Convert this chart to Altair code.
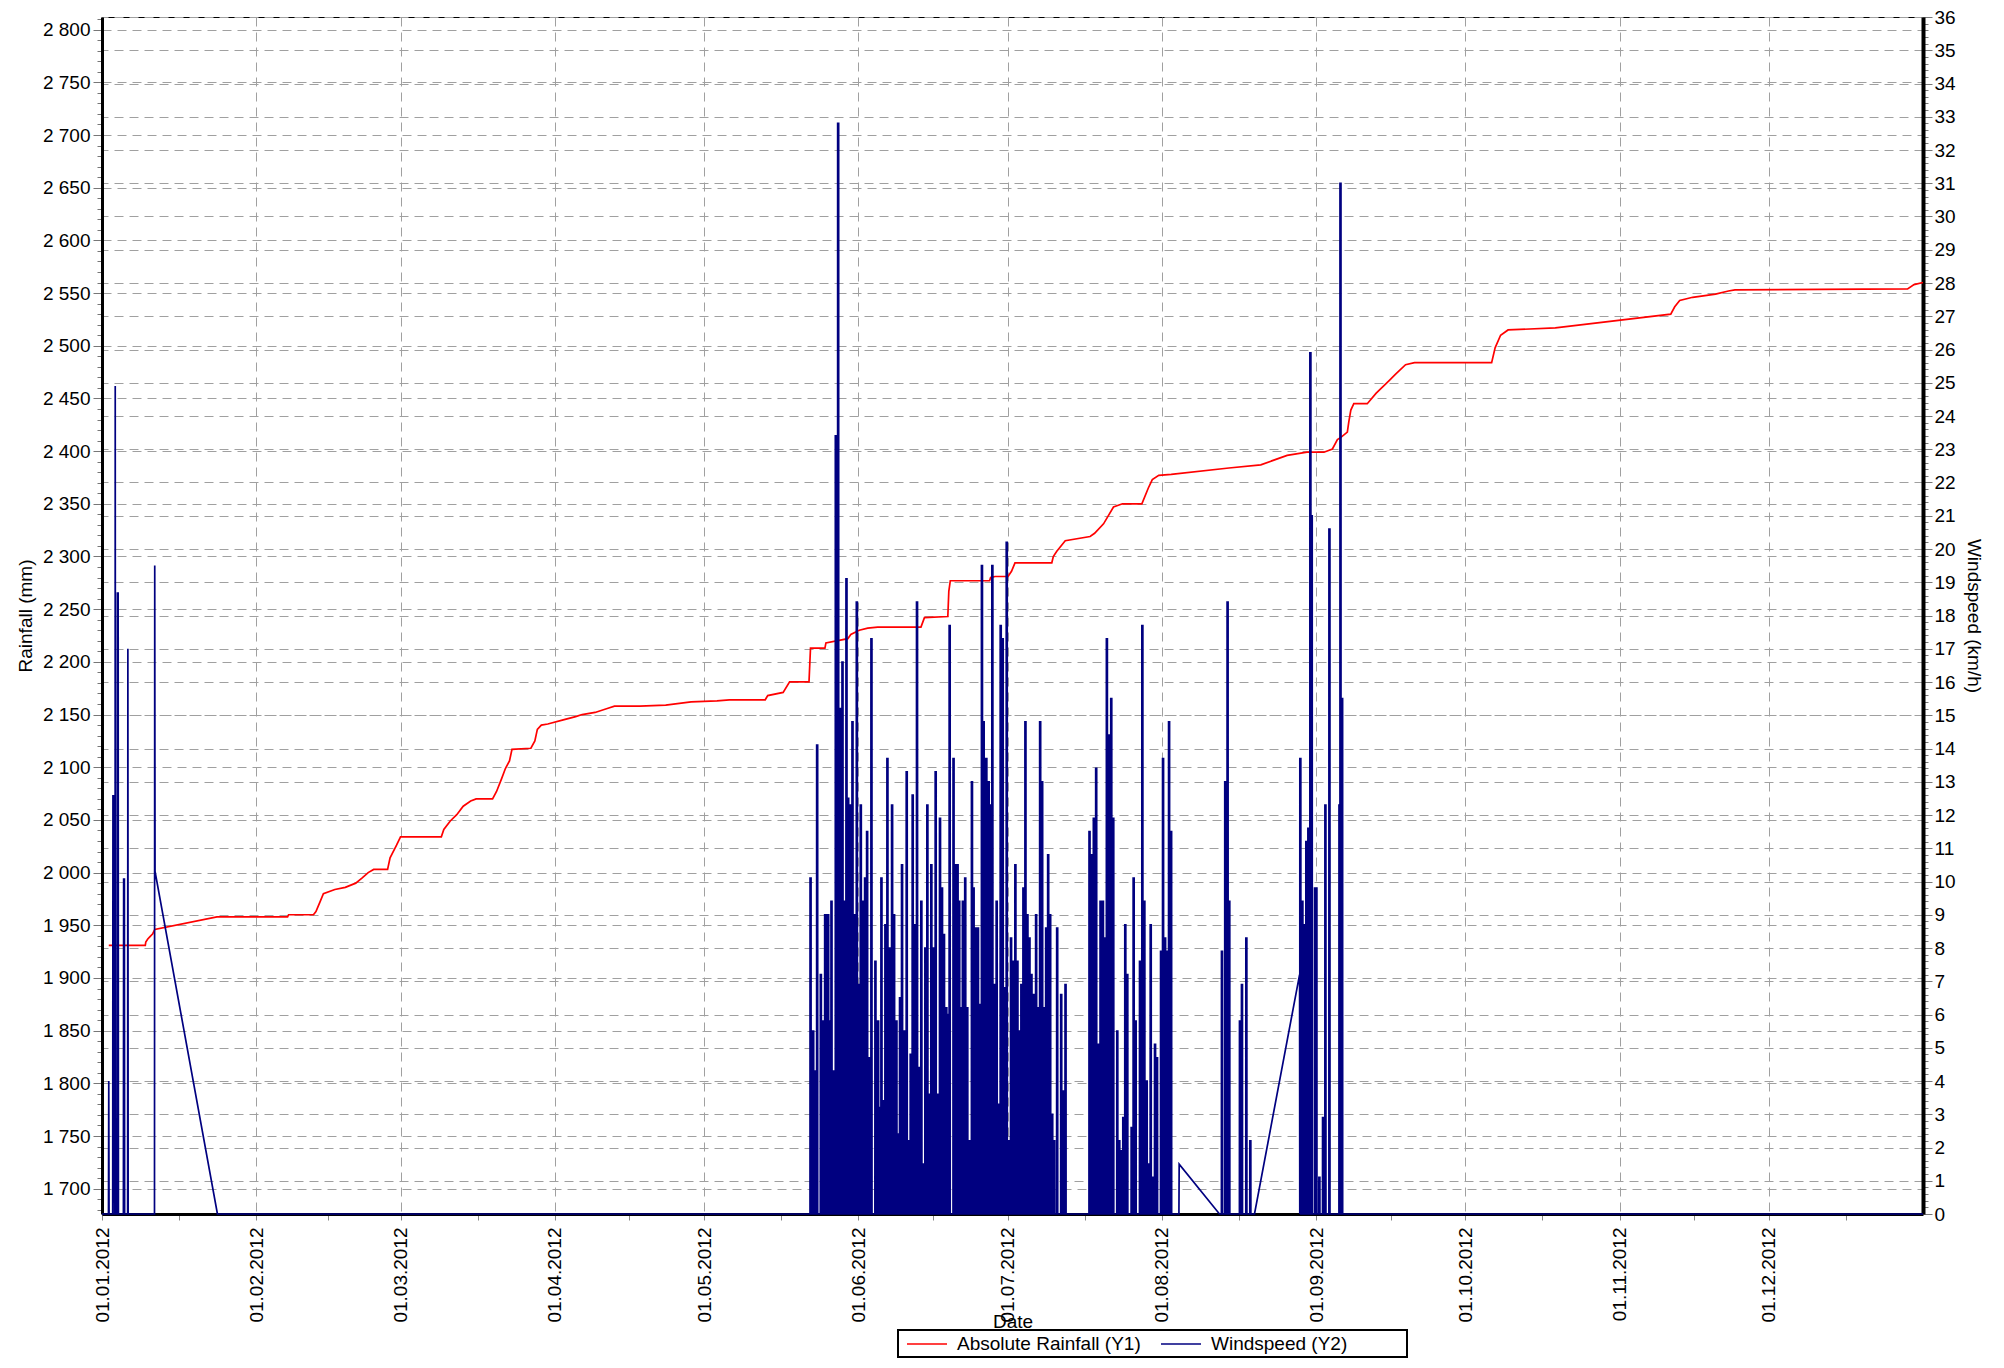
import altair as alt
import pandas as pd

BASE = pd.Timestamp("2012-01-01")

# ---- Absolute rainfall (mm), day-of-year offsets from 01.01.2012 ----
rain_day = [1.36, 8.7, 8.8, 9.2, 9.6, 10.2, 10.6, 23.1, 37.3, 37.5, 42.5, 43.0, 43.8, 44.5, 46.8,
            48.9, 51.0, 52.3, 53.5, 54.6, 57.4, 57.9, 59.2, 60.0, 68.2, 68.7, 70.0, 71.3, 72.6,
            74.1, 75.2, 78.5, 79.3, 80.3, 81.1, 81.9, 82.4, 86.2, 87.0, 87.5, 88.3, 89.6, 92.7,
            95.2, 96.5, 99.1, 101.7, 103.0, 108.1, 113.3, 118.4, 123.6, 126.1, 133.3, 133.8,
            136.9, 138.2, 142.1, 142.4, 145.3, 145.5, 149.9, 150.5, 152.2, 153.9, 155.9, 164.6,
            165.3, 170.0, 170.2, 170.5, 178.4, 178.6, 179.5, 182.1, 182.8, 183.5, 190.9, 191.2,
            191.9, 193.6, 198.6, 199.5, 201.3, 203.3, 205.1, 209.0, 210.3, 211.1, 212.4, 214.9,
            226.5, 232.9, 238.2, 242.2, 245.6, 247.3, 248.3, 249.0, 250.3, 250.6, 251.0, 251.6,
            254.3, 256.1, 257.4, 258.7, 260.0, 262.0, 263.8, 279.3, 280.0, 281.1, 282.6, 292.1,
            315.3, 316.1, 317.1, 319.7, 324.3, 326.9, 328.2, 362.9, 364.2, 366.0]
rain_mm = [1931, 1931, 1934, 1937, 1939, 1942, 1946, 1958, 1958, 1960, 1960, 1963, 1972, 1980, 1984,
           1986, 1990, 1995, 2000, 2003, 2003, 2014, 2026, 2034, 2034, 2041, 2049, 2055, 2063,
           2068, 2070, 2070, 2077, 2089, 2099, 2106, 2117, 2118, 2125, 2136, 2140, 2141, 2145,
           2148, 2150, 2152, 2156, 2158, 2158, 2159, 2162, 2163, 2164, 2164, 2168,
           2171, 2181, 2181, 2213, 2213, 2218, 2222, 2226, 2230, 2232, 2233, 2233,
           2242, 2243, 2267, 2277, 2277, 2280, 2281, 2281, 2286, 2294, 2294, 2300,
           2305, 2315, 2319, 2322, 2331, 2347, 2350, 2350, 2365, 2373, 2377, 2378,
           2384, 2387, 2396, 2399, 2399, 2402, 2411, 2413, 2418, 2428, 2439, 2445,
           2445, 2455, 2461, 2467, 2473, 2482, 2484, 2484, 2498, 2510, 2515, 2517,
           2530, 2537, 2543, 2546, 2549, 2552, 2553, 2554, 2558, 2560]

# ---- Windspeed (km/h) ----
jan_day = [0.0, 1.3, 1.36, 1.42, 2.15, 2.2, 2.3, 2.38, 2.5, 2.62, 2.66, 2.72, 3.05, 3.1, 3.18, 3.25,
           3.3, 4.3, 4.35, 4.42, 4.5, 4.55, 5.15, 5.2, 5.26, 10.55, 10.6, 10.66, 23.2]
jan_kmh = [0, 0, 4.0, 0, 0, 12.6, 5.5, 12.6, 0, 0, 24.9, 0, 0, 18.7, 10.4, 18.7,
           0, 0, 10.1, 7.3, 10.1, 0, 0, 17.0, 0, 0, 19.5, 10.3, 0]

may_jul_day = [142.31, 142.84, 143.18, 143.64, 144.38, 144.71, 144.98, 145.25, 145.55, 145.85,
               146.12, 146.52, 146.92, 147.39, 147.86, 147.99, 148.26, 148.39, 148.73, 149.06,
               149.53, 149.87, 150.27, 150.74, 151.20, 151.61, 151.94, 152.41, 152.88, 153.28,
               153.68, 154.08, 154.55, 155.35, 155.89, 156.15, 156.56, 156.96, 157.36, 157.76,
               158.23, 158.70, 159.10, 159.57, 159.97, 160.30, 160.70, 161.24, 161.64, 162.04,
               162.44, 162.84, 163.25, 163.71, 164.05, 164.58, 164.92, 165.39, 165.79, 166.12,
               166.59, 167.06, 167.46, 167.93, 168.33, 168.73, 169.13, 169.60, 169.94, 170.27,
               171.05, 171.39, 171.86, 172.19, 172.60, 172.93, 173.40, 173.81, 174.28, 174.75,
               175.08, 175.55, 175.96, 176.36, 176.76, 177.10, 177.64, 178.11, 178.51, 178.85,
               179.32, 179.72, 180.12, 180.53, 180.93, 181.33, 181.74, 182.14, 182.61, 183.01,
               183.48, 183.89, 184.29, 184.69, 185.10, 185.50, 185.90, 186.31, 186.71, 187.11,
               187.65, 188.05, 188.46, 188.86, 189.26, 189.67, 190.07, 190.47, 190.88, 191.28,
               191.88, 192.69, 193.09, 193.56]
may_jul_kmh = [10.1, 5.5, 4.3, 14.1, 7.2, 5.8, 3.3, 9.0, 9.0, 9.0,
               5.8, 9.4, 4.3, 23.4, 32.8, 5.4, 15.2, 1.1, 16.6, 9.4,
               19.1, 12.5, 12.3, 14.8, 9.0, 18.4, 6.9, 12.3, 9.4, 10.1,
               11.5, 4.7, 17.3, 7.6, 5.8, 3.2, 10.1, 3.4, 8.7, 13.7,
               8.0, 12.3, 9.0, 5.8, 2.4, 6.5, 10.5, 5.5, 13.3, 2.2,
               4.8, 12.6, 8.7, 18.4, 4.4, 9.4, 1.5, 8.0, 12.3, 3.6,
               10.5, 8.0, 13.3, 3.6, 11.9, 9.8, 8.4, 6.2, 6.0, 17.7,
               13.7, 10.5, 10.5, 9.4, 6.2, 9.4, 10.1, 6.2, 2.2, 13.0,
               9.8, 8.6, 8.6, 6.3, 19.5, 14.8, 13.7, 13.0, 12.3, 19.5,
               6.9, 9.4, 3.3, 17.7, 17.3, 6.8, 20.2, 2.2, 8.3, 7.6,
               10.5, 7.6, 5.5, 6.9, 9.8, 14.8, 9.0, 8.3, 7.2, 6.6,
               9.0, 6.2, 14.8, 13.0, 6.2, 8.6, 10.8, 9.0, 3.0, 2.2,
               8.6, 6.6, 3.7, 6.9]

jul_aug_day = [198.38, 198.78, 199.25, 199.72, 200.13, 200.60, 201.07, 201.47, 201.87, 202.28,
               202.75, 203.15, 203.96, 204.36, 204.76, 205.17, 205.57, 205.97, 206.85, 207.25,
               207.65, 208.53, 209.00, 209.40, 209.87, 210.27, 210.68, 211.15, 211.55, 211.95,
               212.76, 213.16, 213.57, 213.97, 214.37, 214.78]
jul_aug_kmh = [11.5, 10.8, 11.9, 13.4, 5.1, 9.4, 9.4, 8.3, 17.3, 14.4,
               15.5, 11.9, 5.5, 2.2, 1.9, 2.9, 8.7, 7.2, 2.6, 10.1,
               5.8, 7.6, 17.7, 9.4, 4.0, 1.5, 8.7, 1.1, 5.1, 4.7,
               7.9, 13.7, 8.3, 7.9, 14.8, 11.5]

aug_link_day = [216.45, 216.5, 224.6]
aug_link_kmh = [0, 1.5, 0]

aug_day = [225.0, 225.66, 226.13, 226.47, 228.62, 229.02, 229.9, 230.7]
aug_kmh = [7.9, 13.0, 18.4, 9.4, 5.8, 6.9, 8.3, 2.2]

sep_link_day = [231.64, 240.7]
sep_link_kmh = [0, 7.2]

sep_day = [240.75, 241.16, 241.56, 241.96, 242.37, 242.77, 243.04, 243.71, 243.98, 244.58,
           245.32, 245.79, 246.6, 248.62, 248.82, 249.15]
sep_kmh = [13.7, 9.4, 8.7, 11.2, 11.6, 25.9, 21.0, 9.8, 9.8, 1.1,
           2.9, 12.3, 20.6, 12.3, 31.0, 15.5]

end_day = [366.0]
end_kmh = [0]

SERIES = ["Absolute Rainfall (Y1)", "Windspeed (Y2)"]
COLORS = ["#ff0000", "#000080"]


def to_iso(days):
    return [(BASE + pd.to_timedelta(d, unit="D")).strftime("%Y-%m-%dT%H:%M:%S") for d in days]


def bars(days, kmh, w=0.2, e=0.01):
    out_d, out_v = [], []
    for d, v in zip(days, kmh):
        out_d += [d - e, d, d + w, d + w + e]
        out_v += [0, v, v, 0]
    return out_d, out_v


wd, wv = list(jan_day), list(jan_kmh)
for kind, dd, vv in [("b", may_jul_day, may_jul_kmh), ("b", jul_aug_day, jul_aug_kmh),
                     ("l", aug_link_day, aug_link_kmh), ("b", aug_day, aug_kmh),
                     ("l", sep_link_day, sep_link_kmh), ("b", sep_day, sep_kmh),
                     ("l", end_day, end_kmh)]:
    if kind == "b":
        bd, bv = bars(dd, vv)
        wd += bd
        wv += bv
    else:
        wd += dd
        wv += vv

rain_df = pd.DataFrame({"date": to_iso(rain_day), "value": rain_mm,
                        "idx": range(len(rain_day)), "series": SERIES[0]})
wind_df = pd.DataFrame({"date": to_iso(wd), "value": wv,
                        "idx": range(len(wd)), "series": SERIES[1]})

# x-axis ticks: month starts (labelled, gridded) plus quarter-month minor ticks
month_starts = pd.date_range("2012-01-01", "2013-01-01", freq="MS")
tick_times = []
for s, e in zip(month_starts[:-1], month_starts[1:]):
    for k in range(4):
        tick_times.append(s + (e - s) * k / 4)
x_values = [alt.DateTime(year=t.year, month=t.month, date=t.day, hours=t.hour, minutes=t.minute)
            for t in tick_times]

MONTH_TEST = "date(datum.value) === 1 && hours(datum.value) === 0"
GRID = dict(grid=True, gridColor="#a0a0a0", gridDash=[9, 6], gridWidth=1)

x_axis = alt.Axis(
    values=x_values, labelAngle=270, labelFlush=False, labelOverlap=False,
    labelExpr=f"{MONTH_TEST} ? timeFormat(datum.value, '%d.%m.%Y') : ''",
    gridOpacity={"condition": {"test": MONTH_TEST, "value": 1}, "value": 0},
    tickSize=6, tickColor="#888888", labelPadding=7, domainWidth=3,
    titleY=98, titleBaseline="top", **GRID,
)

left_axis = alt.Axis(
    values=list(range(1680, 2811, 10)), labelOverlap=False, labelFlush=False,
    labelExpr="datum.value % 50 === 0 ? replace(format(datum.value, ','), ',', ' ') : ''",
    tickSize={"condition": {"test": "datum.value % 50 === 0", "value": 9}, "value": 5},
    gridOpacity={"condition": {"test": "datum.value % 50 === 0", "value": 1}, "value": 0},
    tickColor="#777777", labelPadding=3, domainWidth=3, titlePadding=7, **GRID,
)

INT_TEST = "abs(datum.value - round(datum.value)) < 0.01"
right_axis = alt.Axis(
    orient="right", values=[round(i * 0.2, 1) for i in range(0, 181)],
    labelOverlap=False, labelFlush=False,
    labelExpr=f"{INT_TEST} ? format(datum.value, 'd') : ''",
    tickSize={"condition": {"test": INT_TEST, "value": 9}, "value": 5},
    gridOpacity={"condition": {"test": INT_TEST, "value": 1}, "value": 0},
    tickColor="#777777", labelPadding=2, domainWidth=4, titlePadding=8, **GRID,
)

# trailing blank padding (ends in a blank, non-whitespace glyph so it is not trimmed)
PAD = "\u00a0" * 8 + "\u2800"
color = alt.Color(
    "series:N",
    scale=alt.Scale(domain=SERIES, range=COLORS),
    legend=alt.Legend(
        title=None, orient="none", legendX=796, legendY=1313, direction="horizontal",
        columns=2, symbolType="M-2,0H2", symbolSize=400,
        symbolStrokeWidth=1.6, symbolOffset=15, labelFontSize=19, labelFont="Liberation Sans",
        labelLimit=400, columnPadding=14, labelOffset=19, padding=3,
        labelExpr=f"indexof(datum.label, 'Windspeed') === 0 ? datum.label + '{PAD}' : datum.label",
        strokeColor="black", fillColor="white",
    ),
)

x_enc = alt.X(
    "date:T", title="Date", axis=x_axis,
    scale=alt.Scale(domain=[alt.DateTime(year=2012, month=1, date=1),
                            alt.DateTime(year=2013, month=1, date=1)]),
)

wind = alt.Chart(wind_df).mark_line(strokeWidth=1.7).encode(
    x=x_enc,
    y=alt.Y("value:Q", title="Windspeed (km/h)", axis=right_axis,
            scale=alt.Scale(domain=[0, 36], nice=False, zero=False)),
    order="idx:Q",
    color=color,
)

rain = alt.Chart(rain_df).mark_line(strokeWidth=1.7).encode(
    x=alt.X("date:T"),
    y=alt.Y("value:Q", title="Rainfall (mm)", axis=left_axis,
            scale=alt.Scale(domain=[1676, 2812], nice=False, zero=False)),
    order="idx:Q",
    color=alt.Color("series:N"),
)

chart = (
    alt.layer(rain, wind)
    .resolve_scale(y="independent")
    .properties(
        width=1821, height=1197,
        autosize=alt.AutoSizeParams(type="none"),
        padding={"left": 94, "top": 9, "right": 70, "bottom": 144},
    )
    .configure_view(stroke="black", strokeWidth=1)
    .configure_axis(
        labelFont="Liberation Sans", titleFont="Liberation Sans",
        labelFontSize=19, titleFontSize=19, titleFontWeight="normal",
        labelColor="black", titleColor="black", domainColor="black",
    )
    .configure_legend(strokeWidth=2, labelColor="black")
)

chart.save("out.html", embed_options={"renderer": "svg", "actions": False})
